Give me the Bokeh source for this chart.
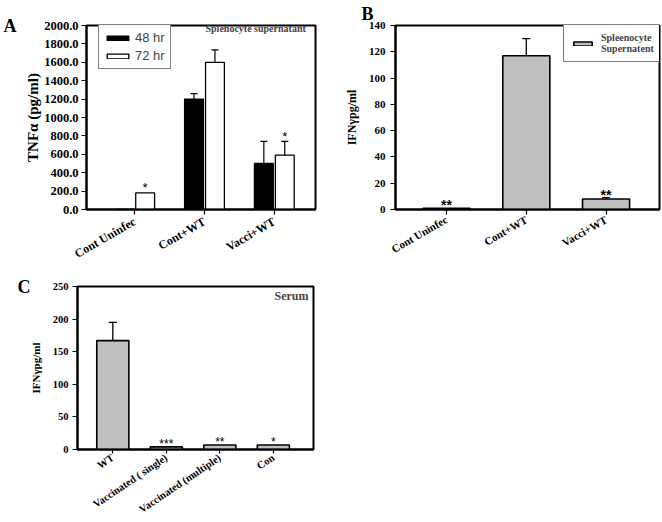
import numpy as np
from bokeh.plotting import figure
from bokeh.models import (ColumnDataSource, Whisker, TeeHead, FixedTicker, Legend,
                          LegendItem, Label, Range1d, NumeralTickFormatter, LinearAxis, Title)
from bokeh.layouts import column, row
from bokeh.embed import file_html
from bokeh.resources import INLINE
from bokeh.core.properties import value

SERIF = "Liberation Serif"
SANS = "Liberation Sans"

# ---------------- data ----------------
# Panel A : TNF-alpha, splenocyte supernatant
cats_a = ["Cont Uninfec", "Cont+WT", "Vacci+WT"]
tnf_48 = [0, 1200, 500]
tnf_48_err = [0, 60, 240]
tnf_72 = [180, 1600, 590]
tnf_72_err = [0, 135, 150]
sig_a_72 = ["*", "", "*"]
yticks_a = [0, 200, 400, 600, 800, 1000, 1200, 1400, 1600, 1800, 2000]

# Panel B : IFN-gamma, splenocyte supernatant
cats_b = ["Cont Uninfec", "Cont+WT", "Vacci+WT"]
ifn_b = [1, 117, 8]
ifn_b_err = [0, 13, 1]
sig_b = ["**", "", "**"]
yticks_b = [0, 20, 40, 60, 80, 100, 120, 140]

# Panel C : IFN-gamma, serum
cats_c = ["WT", "Vaccinated ( single)", "Vaccinated (multiple)", "Con"]
ifn_c = [167, 4, 7, 7]
ifn_c_err = [28, 0, 0, 0]
sig_c = ["", "***", "**", "*"]
yticks_c = [0, 50, 100, 150, 200, 250]

GRAY = "#c0c0c0"


def style(p, cats, yticks, tick_font, xlab_font, angle, ylab, ylab_font, ylab_standoff,
          tick_standoff, xtick_out=5, xstandoff=2):
    p.outline_line_color = "black"
    p.outline_line_width = 2
    p.outline_line_alpha = 1
    p.xgrid.visible = False
    p.ygrid.visible = False
    p.background_fill_color = "white"
    p.border_fill_color = "white"
    for ax in (p.xaxis[0], p.yaxis[0]):
        ax.axis_line_width = 2
        ax.axis_line_color = "black"
        ax.major_tick_out = 5
        ax.major_tick_in = 0
        ax.major_tick_line_width = 1.2
        ax.minor_tick_line_color = None
        ax.major_label_text_font = SERIF
        ax.major_label_text_font_style = "bold"
        ax.major_label_text_color = "black"
    xa = p.xaxis[0]
    xa.ticker = FixedTicker(ticks=list(range(len(cats))))
    xa.major_label_overrides = {i: c for i, c in enumerate(cats)}
    xa.major_label_orientation = np.deg2rad(angle)
    xa.major_label_text_font_size = xlab_font
    xa.major_label_standoff = xstandoff
    xa.major_tick_out = xtick_out
    ya = p.yaxis[0]
    ya.ticker = FixedTicker(ticks=yticks)
    ya.major_label_text_font_size = tick_font
    ya.major_label_standoff = tick_standoff
    ya.axis_label = ylab
    ya.axis_label_text_font = SERIF
    ya.axis_label_text_font_style = "bold"
    ya.axis_label_text_font_size = ylab_font
    ya.axis_label_text_color = "black"
    ya.axis_label_standoff = ylab_standoff


def panel_letter_axis(p, letter, size, standoff):
    # panel letter drawn as the only tick label of a bare extra axis on the left
    p.extra_y_ranges = {"letter": Range1d(0, 1)}
    ax = LinearAxis(y_range_name="letter", ticker=FixedTicker(ticks=[1]),
                    major_label_overrides={1: letter}, axis_line_color=None,
                    major_tick_line_color=None, minor_tick_line_color=None,
                    major_tick_out=0, major_tick_in=0, minor_tick_out=0, minor_tick_in=0,
                    major_label_standoff=standoff, major_label_orientation="horizontal",
                    major_label_text_font=SERIF, major_label_text_font_style="bold",
                    major_label_text_font_size=size, major_label_text_color="black")
    p.add_layout(ax, "left")


def whiskers(p, xs, tops, errs, size=8, lw=1.3):
    xs = np.asarray(xs, float)
    tops = np.asarray(tops, float)
    errs = np.asarray(errs, float)
    m = errs > 0
    src = ColumnDataSource(dict(x=xs[m], lo=tops[m], hi=(tops + errs)[m]))
    w = Whisker(source=src, base="x", lower="lo", upper="hi", dimension="height",
                line_color="black", line_width=lw,
                upper_head=TeeHead(size=size, line_color="black", line_width=lw),
                lower_head=None, level="glyph")
    p.add_layout(w)


def stars(p, xs, ys, labels, size, style_="normal", yoff=-3):
    src = ColumnDataSource(dict(x=list(xs), y=list(ys), t=list(labels)))
    p.text(x="x", y="y", text="t", source=src, text_align="center", text_baseline="middle",
           text_font=value(SANS), text_font_size=size, text_font_style=style_,
           text_color="#000000", text_alpha=1.0, y_offset=yoff)


# ---------------- Panel A ----------------
xa_ = np.arange(len(cats_a))
pA = figure(width=340, height=270, output_backend="svg", toolbar_location=None,
            x_range=Range1d(-0.69, 2.59), y_range=Range1d(0, 2000),
            min_border_left=86, min_border_right=25, min_border_top=15, min_border_bottom=61)
srcA48 = ColumnDataSource(dict(x=xa_ - 0.15, top=tnf_48))
srcA72 = ColumnDataSource(dict(x=xa_ + 0.15, top=tnf_72))
r48 = pA.vbar(x="x", top="top", width=0.27, bottom=0, source=srcA48,
              fill_color="black", line_color="black", line_width=1.3)
r72 = pA.vbar(x="x", top="top", width=0.27, bottom=0, source=srcA72,
              fill_color="white", line_color="black", line_width=1.3)
whiskers(pA, xa_ - 0.15, tnf_48, tnf_48_err, size=7, lw=1.2)
whiskers(pA, xa_ + 0.15, tnf_72, tnf_72_err, size=7, lw=1.2)
stars(pA, xa_ + 0.15, np.asarray(tnf_72) + np.asarray(tnf_72_err), sig_a_72, "13px", yoff=-5)
style(pA, cats_a, yticks_a, "12.5px", "12px", 30, "TNF\u03b1 (pg/ml)", "15px", 0, 3,
      xtick_out=5, xstandoff=6)
pA.yaxis[0].formatter = NumeralTickFormatter(format="0.0")
panel_letter_axis(pA, "A", "18px", 6)
legA = Legend(items=[LegendItem(label="48 hr", renderers=[r48]),
                     LegendItem(label="72 hr", renderers=[r72])],
              location=(12, 140), border_line_color="black", border_line_width=1,
              background_fill_color="white", background_fill_alpha=1,
              label_text_font=SANS, label_text_font_size="13px", label_height=14,
              glyph_height=6, glyph_width=27, label_standoff=4, spacing=3,
              padding=5, margin=0)
pA.add_layout(legA)
pA.add_layout(Label(x=119, y=176, x_units="screen", y_units="screen", text="Splenocyte supernatant",
                    text_font=SERIF, text_font_style="bold", text_font_size="10px"))

# ---------------- Panel B ----------------
xb_ = np.arange(len(cats_b))
pB = figure(width=322, height=270, output_backend="svg", toolbar_location=None,
            x_range=Range1d(-0.64, 2.67), y_range=Range1d(0, 140),
            min_border_left=55, min_border_right=3, min_border_top=25, min_border_bottom=61)
srcB = ColumnDataSource(dict(x=xb_, top=ifn_b))
rB = pB.vbar(x="x", top="top", width=0.59, bottom=0, source=srcB,
             fill_color=GRAY, line_color="black", line_width=1.6)
whiskers(pB, xb_, ifn_b, ifn_b_err, size=8, lw=1.3)
stars(pB, xb_, np.asarray(ifn_b) + np.asarray(ifn_b_err), sig_b, "14px", "bold", yoff=-3)
style(pB, cats_b, yticks_b, "11px", "11px", 30, "IFN\u03b3pg/ml", "12px", 7, 5,
      xtick_out=5, xstandoff=4)
legB = Legend(items=[LegendItem(label="Spleenocyte\nSupernatent", renderers=[rB])],
              location=(168, 147), border_line_color="black", border_line_width=1,
              background_fill_color="white", background_fill_alpha=1,
              label_text_font=SERIF, label_text_font_style="bold", label_text_font_size="10px",
              glyph_height=5, glyph_width=23, label_standoff=7, padding=7, margin=0)
pB.add_layout(legB)
pB.add_layout(Title(text="B", align="left", offset=-34, standoff=0, vertical_align="top",
                    text_font=SERIF, text_font_style="bold", text_font_size="18px",
                    text_color="black"), "above")

# ---------------- Panel C ----------------
xc_ = np.arange(len(cats_c))
pC = figure(width=340, height=252, output_backend="svg", toolbar_location=None,
            x_range=Range1d(-0.66, 3.75), y_range=Range1d(0, 250),
            min_border_left=77, min_border_right=27, min_border_top=16, min_border_bottom=72)
srcC = ColumnDataSource(dict(x=xc_, top=ifn_c))
pC.vbar(x="x", top="top", width=0.6, bottom=0, source=srcC,
        fill_color=GRAY, line_color="black", line_width=1.6)
whiskers(pC, xc_, ifn_c, ifn_c_err, size=8, lw=1.3)
stars(pC, xc_, np.asarray(ifn_c) + np.asarray(ifn_c_err), sig_c, "12px", "normal", yoff=-3)
style(pC, cats_c, yticks_c, "10.5px", "10.5px", 34, "IFN\u03b3pg/ml", "11px", 8, 4,
      xtick_out=4, xstandoff=3)
panel_letter_axis(pC, "C", "18px", -4)
pC.add_layout(Label(x=197, y=147, x_units="screen", y_units="screen", text="Serum",
                    text_font=SERIF, text_font_style="bold", text_font_size="12px"))

layout = column(row(pA, pB), pC)
open("out.html", "w").write(file_html(layout, INLINE))
